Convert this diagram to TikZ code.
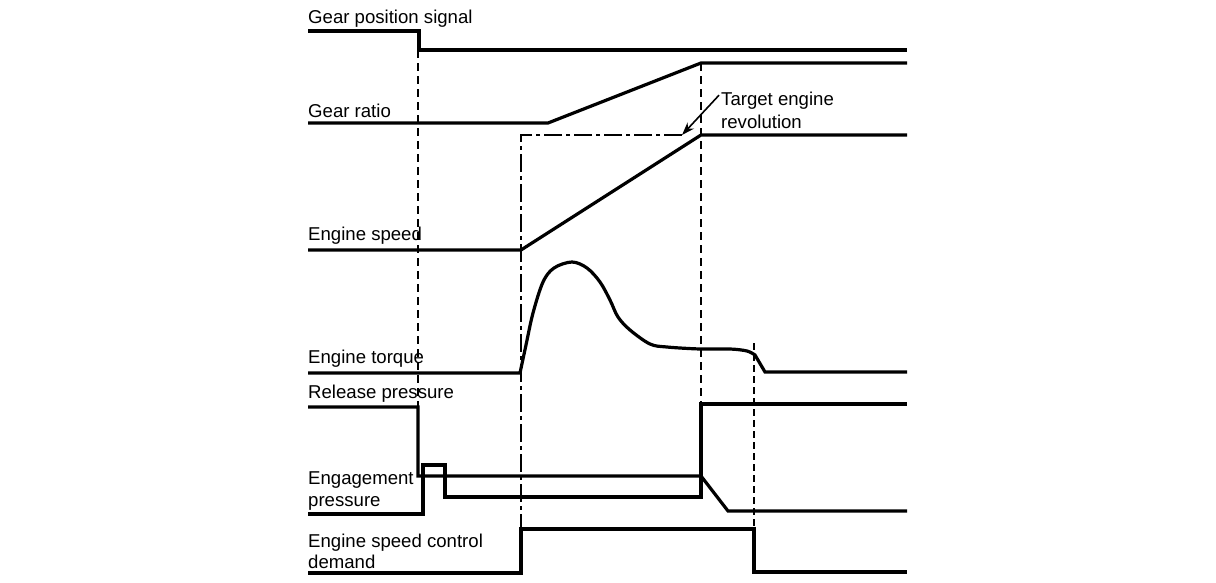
\documentclass[tikz,border=0pt]{standalone}
\usepackage{fontspec}
\setmainfont{Liberation Sans}
\usetikzlibrary{arrows.meta}
\begin{document}
\begin{tikzpicture}[x=1pt,y=-1pt,
  wave/.style={line width=3.2pt,line join=miter,line cap=butt},
  lbl/.style={anchor=base west,inner sep=0pt,font=\fontsize{18.6}{23}\selectfont},
  guidethick/.style={line width=2pt,dash pattern=on 8pt off 5pt},
  guidethin/.style={line width=1.4pt,dash pattern=on 7pt off 4pt},
  guidedot/.style={line width=1.4pt,dash pattern=on 18pt off 4pt on 4pt off 4pt},
  pointer/.style={line width=1.6pt,-{Stealth[length=13pt,width=9pt]}}]
\useasboundingbox (0,0) rectangle (1216,582);
% labels
\node[lbl] (lgps) at (308,23) {Gear position signal};
\node[lbl] (lgr) at (308,117) {Gear ratio};
\node[lbl] (les) at (308,240) {Engine speed};
\node[lbl] (let) at (308,363) {Engine torque};
\node[lbl] (lrp) at (308,398) {Release pressure};
\node[lbl] (lep1) at (308,484) {Engagement};
\node[lbl] (lep2) at (308,506) {pressure};
\node[lbl] (lcd1) at (308,547) {Engine speed control};
\node[lbl] (lcd2) at (308,568) {demand};
\node[lbl] (lter1) at (721,105) {Target engine};
\node[lbl] (lter2) at (721,128) {revolution};
% guide lines
\draw[guidethick] (418,50) -- (418,407);
\draw[guidethick] (701,63) -- (701,404);
\draw[guidethin] (754,343) -- (754,529);
\draw[guidedot] (682,135) -- (521,135) -- (521,529);
% waveforms
\draw[wave] (308,31) -- (419,31) -- (419,50) -- (907,50);
\draw[wave] (308,123) -- (548,123) -- (701,63) -- (907,63);
\draw[wave] (308,250) -- (521,250) -- (701,135) -- (907,135);
\draw[wave] (308,373) -- (520,373)
  plot[smooth,tension=0.55] coordinates {(520,373) (526,345) (533,313) (543,282) (554,268) (572,262) (587,268) (600,282) (610,300) (618,317) (630,330) (650,344) (667,347) (700,349) (730,349) (747,351) (755,355)}
  -- (765,372) -- (907,372);
\draw[wave] (308,407) -- (418,407) -- (418,476) -- (701,476) -- (728,511) -- (907,511);
\draw[wave] (308,514) -- (423,514) -- (423,465) -- (445,465) -- (445,497) -- (701,497) -- (701,404) -- (907,404);
\draw[wave] (308,573) -- (521,573) -- (521,529) -- (754,529) -- (754,572) -- (907,572);
% pointer
\coordinate (tgt) at (682,135);
\draw[pointer] (lter1.west) ++(-2,-5) -- (tgt);
\end{tikzpicture}
\end{document}
